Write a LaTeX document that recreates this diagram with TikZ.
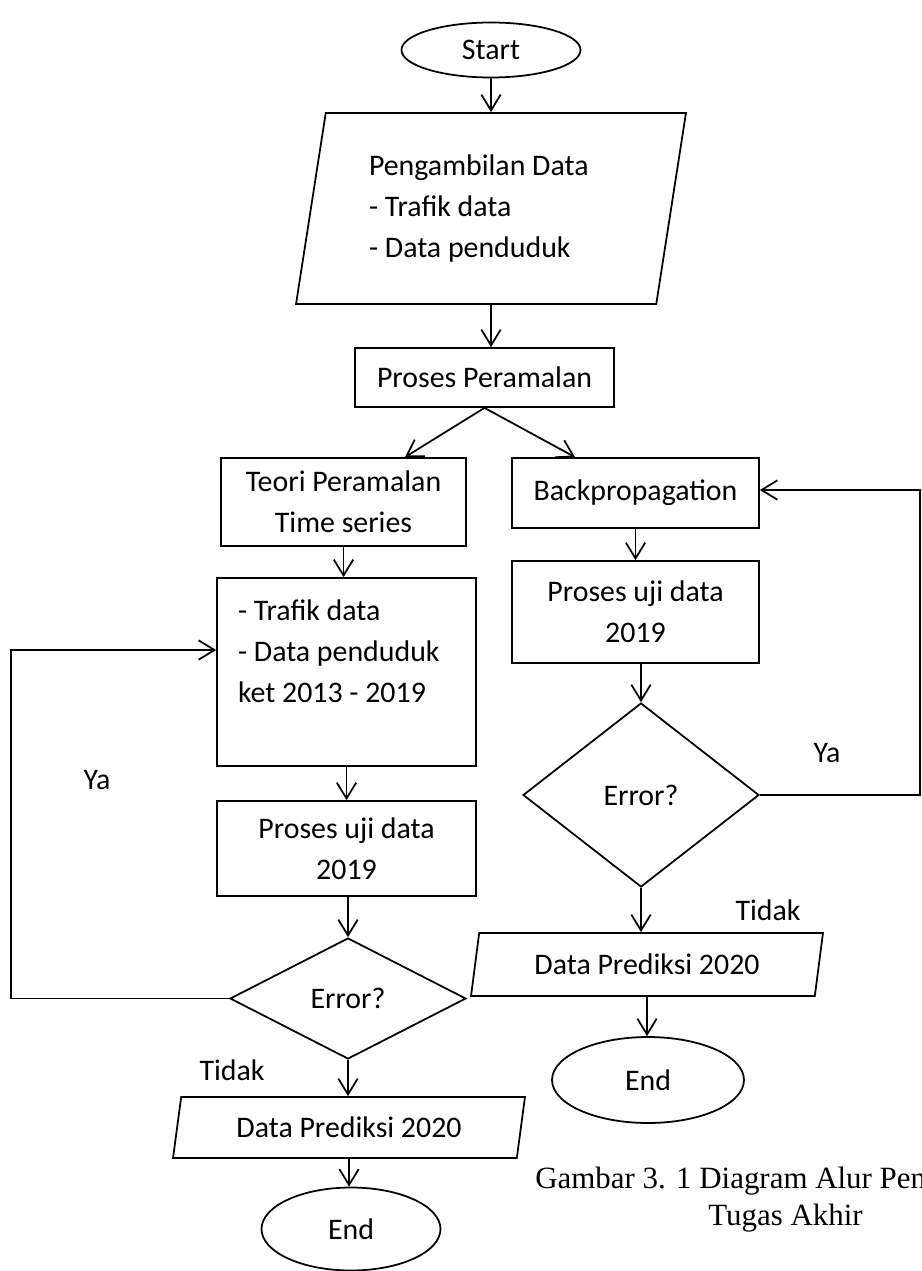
\documentclass[tikz,border=0pt]{standalone}
\usepackage{fontspec}
\setmainfont{Carlito}
\newfontfamily\gambarfont{Liberation Serif}
\usetikzlibrary{shapes.geometric,arrows.meta}

\tikzset{
    kotak/.style={draw, rectangle, line width=1pt, align=center},
    jajar/.style={draw, trapezium, trapezium left angle=76, trapezium right angle=104, trapezium stretches body, line width=1pt, align=center},
    oval/.style={draw, ellipse, line width=1pt},
    belah/.style={draw, diamond, line width=1pt},
    panah/.style={-{Straight Barb[length=9pt,width=11pt]}, line width=1pt},
    keterangan/.style={font=\gambarfont\fontsize{17.6}{20}\selectfont, anchor=base west, inner sep=0pt}
}

\begin{document}
\begin{tikzpicture}[x=0.02cm, y=-0.02cm, font=\fontsize{17}{23.3}\selectfont]
    \useasboundingbox (0,0) rectangle (922,1271);
    \clip (0,0) rectangle (922,1271);

    \node[oval, minimum width=3.58cm, minimum height=1.1cm] (start) at (491,50) {Start};
    \node[jajar, minimum width=7.8cm, minimum height=3.82cm, text width=4.88cm, align=flush left] (ambil) at (491,208.5) {Pengambilan Data\\- Trafik data\\- Data penduduk};
    \node[kotak, minimum width=5.18cm, minimum height=1.18cm] (ramal) at (484.5,377.5) {Proses Peramalan};

    \node[kotak, minimum width=4.9cm, minimum height=1.76cm] (teori) at (343.5,502) {Teori Peramalan\\Time series};
    \node[kotak, minimum width=5.18cm, minimum height=3.76cm, text width=4.34cm, align=flush left] (dataL) at (346.5,672) {- Trafik data\\- Data penduduk\\ket 2013 - 2019\\ \mbox{}};
    \node[kotak, minimum width=5.18cm, minimum height=1.9cm] (ujiL) at (346.5,848.5) {Proses uji data\\2019};
    \node[belah, minimum width=4.72cm, minimum height=2.42cm] (errL) at (348,998.5) {Error?};
    \node[jajar, minimum width=7.04cm, minimum height=1.22cm] (prediksiL) at (349,1127.5) {Data Prediksi 2020};
    \node[oval, minimum width=3.58cm, minimum height=1.66cm] (endL) at (351,1229) {End};

    \node[kotak, minimum width=4.94cm, minimum height=1.4cm] (backprop) at (635.5,493) {Backpropagation};
    \node[kotak, minimum width=4.94cm, minimum height=2.04cm] (ujiR) at (635.5,612) {Proses uji data\\2019};
    \node[belah, minimum width=4.72cm, minimum height=3.68cm] (errR) at (641,795) {Error?};
    \node[jajar, minimum width=7.04cm, minimum height=1.26cm] (prediksiR) at (647,964.5) {Data Prediksi 2020};
    \node[oval, minimum width=3.84cm, minimum height=1.72cm] (endR) at (648,1080) {End};

    \node (yaL) at (97,780) {Ya};
    \node (tidakL) at (232,1070) {Tidak};
    \node (yaR) at (827,753) {Ya};
    \node (tidakR) at (768,910) {Tidak};

    \node[keterangan] (gambar1) at (535,1188) {Gambar 3. 1 Diagram Alur Pen};
    \node[keterangan] (gambar2) at (708,1225) {Tugas Akhir};

    \draw[panah] (start) -- (ambil);
    \draw[panah] (ambil.south) -- (ambil.south |- ramal.north);
    \draw[panah] (ramal.south) -- ([xshift=1.23cm]teori.north);
    \draw[panah] (ramal.south) -- ([xshift=-1.21cm]backprop.north);

    \draw[panah] (teori.south) -- (teori.south |- dataL.north);
    \draw[panah] (dataL) -- (ujiL);
    \draw[panah] (ujiL.south -| errL.north) -- (errL.north);
    \draw[panah] (errL.south) -- (errL.south |- prediksiL.north);
    \draw[panah] (prediksiL.south) -- (prediksiL.south |- endL.north);

    \draw[panah] (backprop) -- (ujiR);
    \draw[panah] (ujiR.south -| errR.north) -- (errR.north);
    \draw[panah] (errR.south) -- (errR.south |- prediksiR.north);
    \draw[panah] (prediksiR.south) -- (prediksiR.south |- endR.north);

    \coordinate (kiri) at (11,650);
    \coordinate (kanan) at (920,490);
    \draw[panah] (errL.west) -| (kiri) -- (kiri -| dataL.west);
    \draw[panah] (errR.east) -| (kanan) -- (kanan -| backprop.east);

\end{tikzpicture}
\end{document}
